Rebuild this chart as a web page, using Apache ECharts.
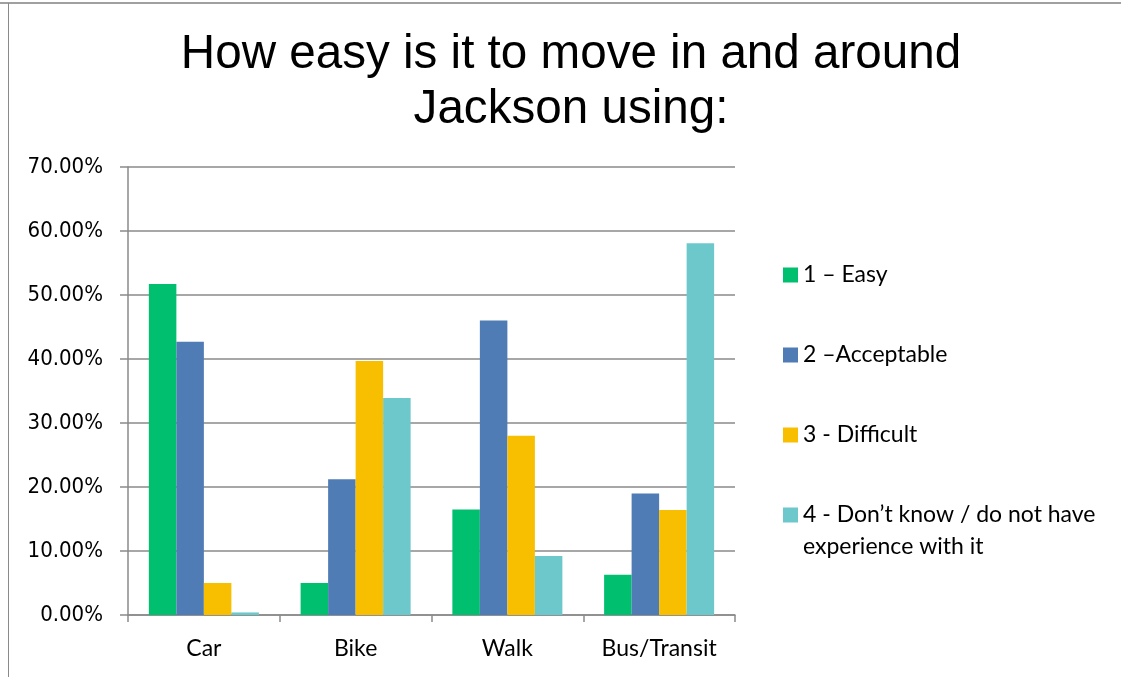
<!DOCTYPE html>
<html>
<head>
    <meta charset="utf-8">
    <title>How easy is it to move in and around Jackson</title>
    <script src="https://cdn.jsdelivr.net/npm/echarts@6/dist/echarts.min.js"></script>
    <style>
        html, body { margin: 0; padding: 0; background: #fff; }
    </style>
</head>
<body>
    <div id="main" style="width:1121px;height:677px;"></div>

    <script type="text/javascript">
        var categories = ['Car', 'Bike', 'Walk', 'Bus/Transit'];
        var seriesNames = ['1 \u2013 Easy', '2 \u2013Acceptable', '3 - Difficult', '4 - Don\u2019t know / do not have experience with it'];
        var easy = [51.7, 5.0, 16.5, 6.3];
        var acceptable = [42.7, 21.2, 46.0, 19.0];
        var difficult = [5.0, 39.7, 28.0, 16.4];
        var dontKnow = [0.4, 33.9, 9.2, 58.1];
        var colors = ['#00BF6F', '#4F7CB5', '#F8BF00', '#6DC8CC'];

        var gridColor = '#8a8a8a';
        var labelFont = 'Lato, "Open Sans", sans-serif';

        var values = [easy, acceptable, difficult, dontKnow];
        var series = [];
        for (var i = 0; i < values.length; i++) {
            series.push({
                name: seriesNames[i],
                type: 'bar',
                data: values[i],
                barGap: '0%',
                barCategoryGap: '27.5%',
                itemStyle: { color: colors[i] }
            });
        }

        // one legend block per entry, so the wrapped last entry keeps its square on the first line
        var legendCenters = [270, 350, 430, 510];
        var lh = 23;
        var legends = [];
        for (var k = 0; k < seriesNames.length; k++) {
            var last = k === seriesNames.length - 1;
            var lineH = last ? 32 : lh;
            legends.push({
                orient: 'vertical',
                left: 778,
                top: last ? legendCenters[k] - 1.5 * lineH : legendCenters[k] - lh / 2,
                itemWidth: 15,
                itemHeight: 15,
                icon: 'rect',
                textStyle: {
                    fontFamily: labelFont,
                    fontSize: 23,
                    lineHeight: lineH,
                    color: '#000'
                },
                data: [seriesNames[k]],
                formatter: function (name) {
                    if (name.indexOf(' experience') < 0) return name;
                    // blank first line puts the first real line level with the square
                    return '\n' + name.replace(' experience', '\nexperience');
                }
            });
        }

        var myChart = echarts.init(document.getElementById('main'));
        myChart.setOption({
            animation: false,
            color: colors,
            title: {
                text: 'How easy is it to move in and around\nJackson using:',
                left: 566,
                top: 22,
                textAlign: 'center',
                textStyle: {
                    fontFamily: '"Liberation Sans", Arial, sans-serif',
                    fontSize: 47.6,
                    fontWeight: 'normal',
                    lineHeight: 55,
                    color: '#000'
                }
            },
            legend: legends,
            grid: {
                left: 128,
                right: 386,
                top: 167,
                bottom: 62
            },
            xAxis: {
                type: 'category',
                data: categories,
                axisLine: { lineStyle: { color: gridColor, width: 1.5 } },
                axisTick: { show: true, length: 7, lineStyle: { color: gridColor, width: 1.5 } },
                axisLabel: {
                    margin: 22,
                    fontFamily: labelFont,
                    fontSize: 23,
                    color: '#000'
                }
            },
            yAxis: {
                type: 'value',
                min: 0,
                max: 70,
                interval: 10,
                axisLine: { show: true, lineStyle: { color: gridColor, width: 1.5 } },
                axisTick: { show: true, length: 8, lineStyle: { color: gridColor, width: 1.5 } },
                splitLine: { lineStyle: { color: gridColor, width: 1.5 } },
                axisLabel: {
                    margin: 25,
                    fontFamily: '"DejaVu Sans Condensed", "DejaVu Sans", sans-serif',
                    fontSize: 22,
                    color: '#000',
                    formatter: function (v) { return v.toFixed(2) + '%'; }
                }
            },
            graphic: [
                { type: 'line', shape: { x1: 0, y1: 3, x2: 1121, y2: 3 }, style: { stroke: '#a0a0a0', lineWidth: 2 } },
                { type: 'line', shape: { x1: 8.5, y1: 3, x2: 8.5, y2: 677 }, style: { stroke: '#8a8a8a', lineWidth: 1 } }
            ],
            series: series
        });
    </script>
</body>
</html>
